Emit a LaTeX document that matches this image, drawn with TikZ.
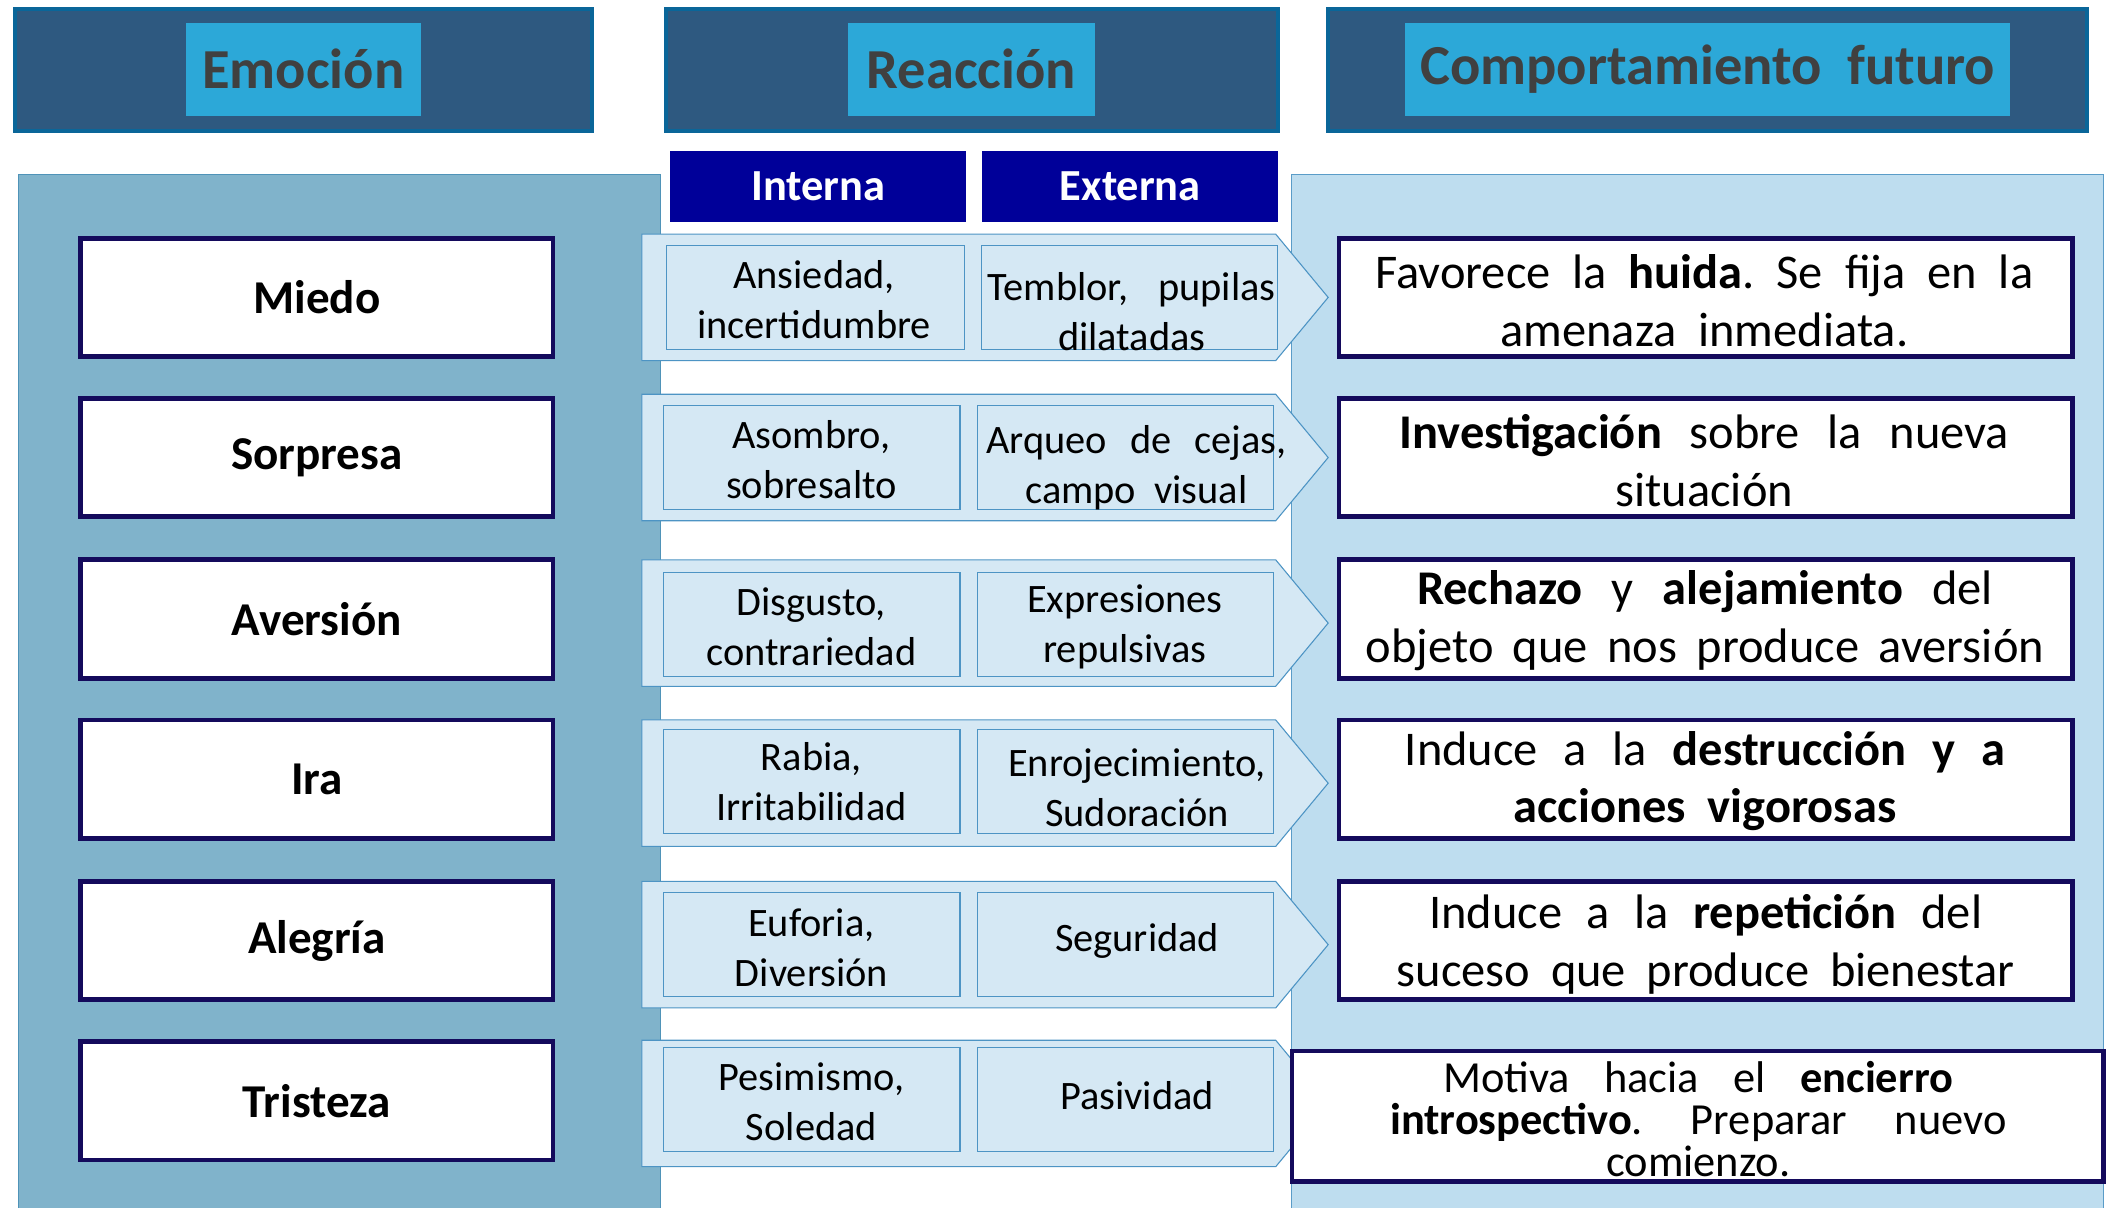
\documentclass[tikz,border=0pt]{standalone}
\usepackage{fontspec}
\setmainfont{Carlito}
\definecolor{headfill}{HTML}{2E5980}
\definecolor{headborder}{HTML}{0A6699}
\definecolor{headinner}{HTML}{2CA8D8}
\definecolor{headtext}{HTML}{404040}
\definecolor{leftfill}{HTML}{80B3CB}
\definecolor{leftborder}{HTML}{4F93B8}
\definecolor{rightfill}{HTML}{BEDDEF}
\definecolor{rightborder}{HTML}{5A9CC8}
\definecolor{subfill}{HTML}{000099}
\definecolor{chevfill}{HTML}{D5E8F4}
\definecolor{chevborder}{HTML}{4D94C4}
\definecolor{boxborder}{HTML}{140A5C}
\newcommand\jl[2]{\makebox[#1pt][s]{#2}}
\frenchspacing
\begin{document}
\begin{tikzpicture}[x=1pt,y=-1pt,
  headbox/.style={draw=headborder,line width=3pt,fill=headfill,minimum height=90pt},
  headin/.style={fill=headinner,minimum height=69pt,text=headtext,font=\fontsize{42}{46}\selectfont\bfseries},
  subhead/.style={fill=subfill,minimum width=220pt,minimum height=53pt,text=white,font=\fontsize{33}{36}\selectfont\bfseries},
  emobox/.style={draw=boxborder,line width=3.5pt,fill=white,minimum width=351pt,minimum height=88pt,font=\fontsize{35}{38}\selectfont\bfseries},
  chev/.style={draw=chevborder,line width=0.8pt,fill=chevfill},
  reacbox/.style={draw=chevborder,line width=0.8pt,fill=chevfill,minimum width=220pt,minimum height=77pt,anchor=north west},
  reactext/.style={font=\fontsize{30}{37}\selectfont,align=center,inner sep=0pt},
  futbox/.style={draw=boxborder,line width=3.5pt,fill=white,minimum width=545pt,minimum height=88pt},
  futtext/.style={font=\fontsize{36}{43}\selectfont,align=center,inner sep=0pt},
]
\useasboundingbox (0,0) rectangle (1568,897);
\fill[white] (0,0) rectangle (1568,897);

% headers
\node[headbox,minimum width=429pt] (h1) at (225.5,52) {};
\node[headbox,minimum width=455pt] (h2) at (722.5,52) {};
\node[headbox,minimum width=564pt] (h3) at (1269,52) {};
\node[headin,minimum width=175pt] (h1in) at (225.5,51.5) {Emoción};
\node[headin,minimum width=184pt] (h2in) at (722,51.5) {Reacción};
\node[headin,minimum width=450pt] (h3in) at (1269,51.5) {Comportamiento\ \ futuro};

% panels
\draw[draw=leftborder,fill=leftfill,line width=0.8pt] (14,130) rectangle (491,920);
\draw[draw=rightborder,fill=rightfill,line width=0.8pt] (960,130) rectangle (1563,920);

% sub headers
\node[subhead] (int) at (608,138.5) {Interna};
\node[subhead] (ext) at (840,138.5) {Externa};

% emotion boxes
\node[emobox] (e1) at (235.5,221) {Miedo};
\node[emobox] (e2) at (235.5,340) {Sorpresa};
\node[emobox] (e3) at (235.5,460) {Aversión};
\node[emobox] (e4) at (235.5,579) {Ira};
\node[emobox] (e5) at (235.5,699) {Alegría};
\node[emobox] (e6) at (235.5,818) {Tristeza};

% chevrons
\foreach \t in {174,293,416,535,655,773}{
  \draw[chev] (477,\t) -- (948,\t) -- (987,\t+47) -- (948,\t+94) -- (477,\t+94) -- cycle;
}

% reaction boxes
\node[reacbox,minimum width=221pt] (r1i) at (495,182) {};
\node[reacbox] (r1e) at (729,182) {};
\node[reacbox] (r2i) at (493,301) {};
\node[reacbox] (r2e) at (726,301) {};
\node[reacbox] (r3i) at (493,425) {};
\node[reacbox] (r3e) at (726,425) {};
\node[reacbox] (r4i) at (493,542) {};
\node[reacbox] (r4e) at (726,542) {};
\node[reacbox] (r5i) at (493,663) {};
\node[reacbox] (r5e) at (726,663) {};
\node[reacbox] (r6i) at (493,778) {};
\node[reacbox] (r6e) at (726,778) {};

% reaction texts
\node[reactext] (t1i) at (605,222.5) {Ansiedad,\\incertidumbre};
\node[reactext] (t1e) at (841,231.5) {\jl{214}{Temblor, pupilas}\\dilatadas};
\node[reactext] (t2i) at (603,341.5) {Asombro,\\sobresalto};
\node[reactext] (t2e) at (844.5,347.5) {\jl{223}{Arqueo de cejas,}\\campo\ \ visual};
\node[reactext] (t3i) at (603,466) {Disgusto,\\contrariedad};
\node[reactext] (t3e) at (836,466) {Expresiones\\repulsivas};
\node[reactext] (t4i) at (603,581) {Rabia,\\Irritabilidad};
\node[reactext] (t4e) at (845,585.5) {Enrojecimiento,\\Sudoración};
\node[reactext] (t5i) at (603,704.5) {Euforia,\\Diversión};
\node[reactext] (t5e) at (845,699) {Seguridad};
\node[reactext] (t6i) at (603,819) {Pesimismo,\\Soledad};
\node[reactext] (t6e) at (845,814) {Pasividad};

% future boxes
\node[futbox] (f1) at (1267.5,221) {};
\node[futbox] (f2) at (1267.5,340) {};
\node[futbox] (f3) at (1267.5,460) {};
\node[futbox] (f4) at (1267.5,579) {};
\node[futbox] (f5) at (1267.5,699) {};
\node[futbox,minimum width=603pt,minimum height=97pt] (f6) at (1261.5,829.5) {};

% future texts
\node[futtext] (u1) at (1266.5,223.5) {\jl{489}{Favorece la \textbf{huida}. Se fija en la}\\amenaza\ \ inmediata.};
\node[futtext] (u2) at (1266.5,342.5) {\jl{453}{\textbf{Investigación} sobre la nueva}\\situación};
\node[futtext] (u3) at (1267,461.5) {\jl{428}{\textbf{Rechazo} y \textbf{alejamiento} del}\\\jl{504}{objeto que nos produce aversión}};
\node[futtext] (u4) at (1267,580.5) {\jl{446}{Induce a la \textbf{destrucción y a}}\\\textbf{acciones\ \ vigorosas}};
\node[futtext] (u5) at (1267.5,701.5) {\jl{411}{Induce a la \textbf{repetición} del}\\\jl{459}{suceso que produce bienestar}};
\node[futtext,font=\fontsize{33}{31}\selectfont] (u6) at (1262,831.5) {\jl{379}{Motiva hacia el \textbf{encierro}}\\\jl{458}{\textbf{introspectivo}. Preparar nuevo}\\comienzo.};
\end{tikzpicture}
\end{document}
